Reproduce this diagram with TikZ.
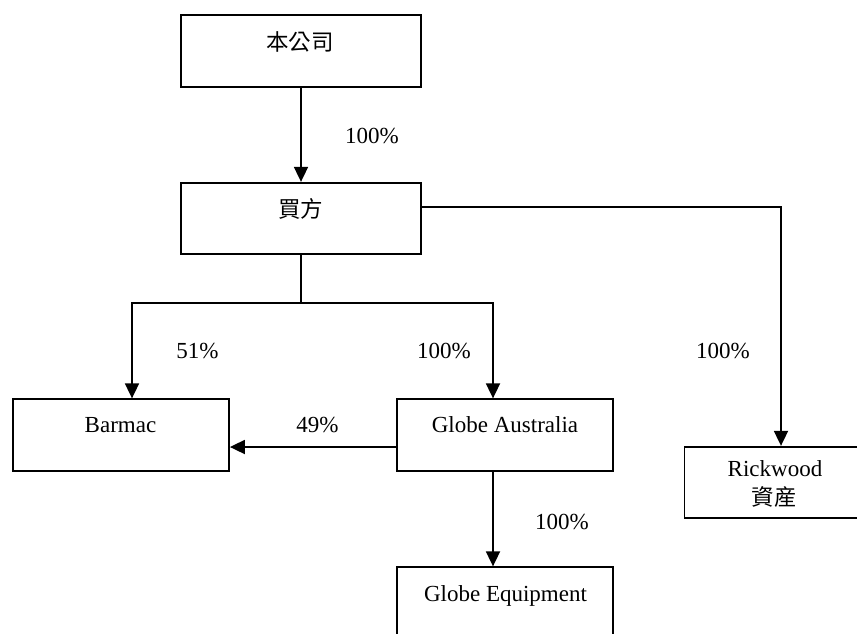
\documentclass[tikz,border=0pt]{standalone}
\usepackage{fontspec}
\setmainfont{Liberation Serif}
\newfontfamily\cjk{Noto Sans CJK TC}
\usetikzlibrary{arrows.meta}
\begin{document}
\begin{tikzpicture}[x=1pt,y=-1pt,
  box/.style={draw,line width=1.8pt,minimum height=71.5pt,inner sep=0pt},
  wide/.style={box,minimum width=240pt},
  std/.style={box,minimum width=216pt},
  txt/.style={font=\fontsize{23}{27}\selectfont,inner sep=0pt},
  ctxt/.style={font=\cjk\fontsize{22.5}{27}\selectfont,inner sep=0pt},
  arr/.style={line width=1.8pt,-{Triangle[length=15pt,width=14pt]}},
  ln/.style={line width=1.8pt}]
\useasboundingbox (0,0) rectangle (857,633);
\clip (0,0) rectangle (857,633);
% boxes
\node[wide] (co) at (301,51) {};
\node[wide] (buyer) at (301,218.5) {};
\node[std] (barmac) at (121,435) {};
\node[std] (ga) at (505,435) {};
\node[std] (ge) at (505,603) {};
\node[box,minimum width=181pt] (rick) at (775,482.5) {};
% box texts
\node[ctxt] (tco) at (300,42) {本公司};
\node[ctxt] (tbuyer) at (300.5,209) {買方};
\node[txt,anchor=base] (tbarmac) at (120.5,432) {Barmac};
\node[txt,anchor=base] (tga) at (505,432) {Globe Australia};
\node[txt,anchor=base] (tge) at (505.5,601) {Globe Equipment};
\node[txt,anchor=base] (trick) at (775,476) {Rickwood};
\node[ctxt] (trick2) at (774,497) {資産};
% labels
\node[txt,anchor=base] (l1) at (372,143) {100\%};
\node[txt,anchor=base] (l2) at (197.5,358) {51\%};
\node[txt,anchor=base] (l3) at (444,358) {100\%};
\node[txt,anchor=base] (l4) at (723,358) {100\%};
\node[txt,anchor=base] (l5) at (317.5,432) {49\%};
\node[txt,anchor=base] (l6) at (562,529) {100\%};
% connectors
\coordinate (split) at (301,303);
\draw[arr] (co.south) -- (buyer.north);
\draw[ln] (buyer.south) -- (split);
\draw[arr] (split) -| ([xshift=11pt]barmac.north);
\draw[arr] (split) -| ([xshift=-12pt]ga.north);
\draw[arr] ([yshift=11.5pt]buyer.east) -| ([xshift=6pt]rick.north);
\draw[arr] ([yshift=-12pt]ga.west) -- ([yshift=-12pt]barmac.east);
\draw[arr] ([xshift=-12pt]ga.south) -- ([xshift=-12pt]ge.north);
\end{tikzpicture}
\end{document}
